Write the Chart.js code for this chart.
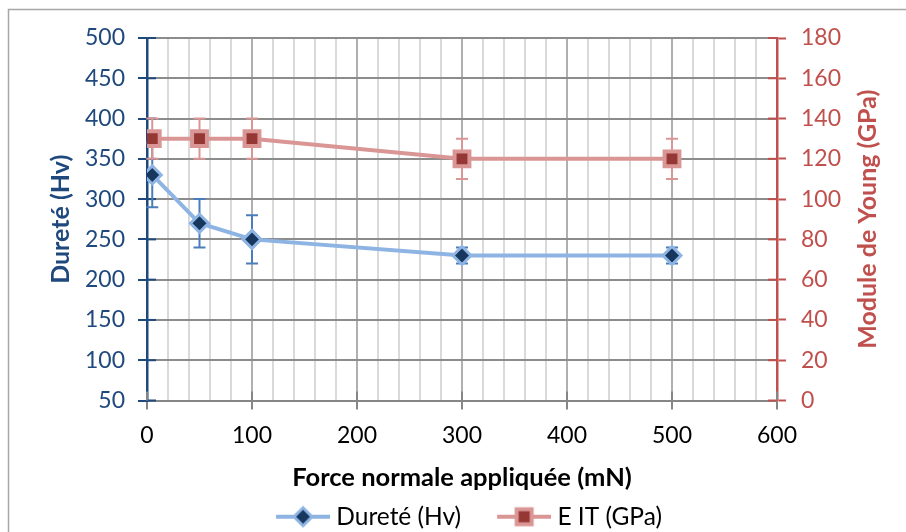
<!DOCTYPE html>
<html>
<head>
<meta charset="utf-8">
<script src="https://cdn.jsdelivr.net/npm/chart.js@4"></script>
<style>
  html, body { margin: 0; padding: 0; background: #fff; }
</style>
</head>
<body>
<canvas id="chart" width="906" height="532"></canvas>
<script>
// data
var force = [5, 50, 100, 300, 500];
var durete = [330, 270, 250, 230, 230];
var dureteErr = [40, 30, 30, 10, 10];
var eit = [130, 130, 130, 120, 120];
var eitErr = [10, 10, 10, 10, 10];
var xLabels = [0, 100, 200, 300, 400, 500, 600];

var FONT = 'Lato';
var BLUE_AXIS = '#1F497D';
var RED_AXIS = '#C0504D';

function pts(xs, ys) {
	return xs.map(function(x, i) { return { x: x, y: ys[i] }; });
}

// legend symbols: line + marker (image is centred on the 80px box, so it overhangs by 6px)
function legendIcon(kind) {
	var c = document.createElement('canvas');
	c.width = 92; c.height = 28;
	var g = c.getContext('2d');
	var cx = 65, cy = 14;
	g.lineWidth = 4;
	g.strokeStyle = kind == 'diamond' ? '#8EB4E3' : '#D99694';
	g.beginPath(); g.moveTo(38, cy); g.lineTo(92, cy); g.stroke();
	g.lineWidth = 3;
	if (kind == 'diamond') {
		g.fillStyle = '#17375E';
		g.beginPath();
		g.moveTo(cx, cy - 9); g.lineTo(cx + 9, cy); g.lineTo(cx, cy + 9); g.lineTo(cx - 9, cy); g.closePath();
		g.fill(); g.strokeStyle = '#8EB4E3'; g.stroke();
	} else {
		g.lineWidth = 4;
		g.fillStyle = '#953735';
		g.fillRect(cx - 7.5, cy - 7.5, 15, 15);
		g.strokeStyle = '#D99694';
		g.strokeRect(cx - 7.5, cy - 7.5, 15, 15);
	}
	return c;
}
var icons = [legendIcon('diamond'), legendIcon('square')];

var errorBars = {
	id: 'errorBars',
	beforeDatasetDraw: function(chart, args) {
		var ds = chart.data.datasets[args.index];
		if (!ds.errors) return;
		var meta = args.meta;
		var ys = chart.scales[meta.yAxisID];
		var ctx = chart.ctx;
		ctx.save();
		ctx.strokeStyle = ds.errorColor;
		ctx.lineWidth = 2;
		meta.data.forEach(function(p, i) {
			var v = ds.data[i].y, e = ds.errors[i];
			var t = ys.getPixelForValue(v + e), b = ys.getPixelForValue(v - e);
			ctx.beginPath();
			ctx.moveTo(p.x, t); ctx.lineTo(p.x, b);
			ctx.moveTo(p.x - 6, t); ctx.lineTo(p.x + 6, t);
			ctx.moveTo(p.x - 6, b); ctx.lineTo(p.x + 6, b);
			ctx.stroke();
		});
		ctx.restore();
	}
};

var extras = {
	id: 'extras',
	beforeDraw: function(chart) {
		var ctx = chart.ctx;
		ctx.save();
		ctx.strokeStyle = '#A6A6A6';
		ctx.lineWidth = 1.5;
		ctx.beginPath();
		ctx.moveTo(8.5, 532); ctx.lineTo(8.5, 9.5); ctx.lineTo(906, 9.5);
		ctx.stroke();
		ctx.restore();
	},
	beforeDatasetsDraw: function(chart) {
		// inner half of the crossing tick marks
		var ctx = chart.ctx, a = chart.chartArea;
		var y = chart.scales.y, y1 = chart.scales.y1, x = chart.scales.x;
		ctx.save();
		ctx.lineWidth = 2;
		ctx.strokeStyle = BLUE_AXIS;
		y.ticks.forEach(function(t) {
			var p = y.getPixelForValue(t.value);
			ctx.beginPath(); ctx.moveTo(a.left, p); ctx.lineTo(a.left + 9, p); ctx.stroke();
		});
		ctx.strokeStyle = RED_AXIS;
		y1.ticks.forEach(function(t) {
			var p = y1.getPixelForValue(t.value);
			ctx.beginPath(); ctx.moveTo(a.right - 9, p); ctx.lineTo(a.right, p); ctx.stroke();
		});
		ctx.strokeStyle = '#868686';
		xLabels.forEach(function(v) {
			var p = x.getPixelForValue(v);
			ctx.beginPath(); ctx.moveTo(p, a.bottom - 9); ctx.lineTo(p, a.bottom); ctx.stroke();
		});
		ctx.restore();
	},
	afterDraw: function(chart) {
		// right axis title reads bottom to top
		var ctx = chart.ctx, a = chart.chartArea, s = chart.scales.y1;
		ctx.save();
		ctx.translate(s.right - 38, (a.top + a.bottom) / 2);
		ctx.rotate(-Math.PI / 2);
		ctx.textAlign = 'center';
		ctx.textBaseline = 'middle';
		ctx.font = 'bold 25px ' + FONT;
		ctx.fillStyle = RED_AXIS;
		ctx.fillText('Module de Young (GPa)', 0, 0);
		ctx.restore();
	}
};

new Chart(document.getElementById('chart').getContext('2d'), {
	type: 'line',
	data: {
		datasets: [{
			label: 'Dureté (Hv)',
			data: pts(force, durete),
			errors: dureteErr,
			errorColor: '#4A7EBB',
			yAxisID: 'y',
			order: 1,
			borderColor: '#8EB4E3',
			borderWidth: 4,
			pointStyle: 'rectRot',
			pointRadius: 9,
			pointBorderWidth: 3,
			pointBackgroundColor: '#17375E',
			pointBorderColor: '#8EB4E3'
		}, {
			label: 'E IT (GPa)',
			data: pts(force, eit),
			errors: eitErr,
			errorColor: '#D99694',
			yAxisID: 'y1',
			order: 0,
			borderColor: '#D99694',
			borderWidth: 4,
			pointStyle: 'rect',
			pointRadius: 10.5,
			pointBorderWidth: 4,
			pointBackgroundColor: '#953735',
			pointBorderColor: '#D99694'
		}]
	},
	options: {
		responsive: false,
		animation: false,
		layout: { padding: { top: 38, left: 0, right: 0, bottom: -7 } },
		plugins: {
			tooltip: { enabled: false },
			legend: {
				position: 'bottom',
				labels: {
					usePointStyle: true,
					pointStyleWidth: 80,
					padding: 4,
					color: '#000',
					font: { family: FONT, size: 24.5 },
					generateLabels: function(chart) {
						return chart.data.datasets.map(function(ds, i) {
							return {
								text: ds.label,
								pointStyle: icons[i],
								datasetIndex: i,
								fillStyle: 'rgba(0,0,0,0)',
								strokeStyle: 'rgba(0,0,0,0)',
								lineWidth: 0,
								hidden: false
							};
						});
					}
				}
			}
		},
		scales: {
			x: {
				type: 'linear',
				min: 0, max: 600,
				ticks: {
					stepSize: 20, autoSkip: false, maxRotation: 0, minRotation: 0,
					padding: 12, color: '#000', font: { family: FONT, size: 23 },
					callback: function(v) { return xLabels.indexOf(v) >= 0 ? v : ''; }
				},
				grid: {
					lineWidth: 2,
					color: function(c) { return c.tick && c.tick.value % 100 === 0 ? '#B0B0B0' : '#D9D9D9'; },
					tickLength: 9,
					tickColor: function(c) { return c.tick && c.tick.value % 100 === 0 ? '#868686' : 'rgba(0,0,0,0)'; }
				},
				border: { color: '#868686', width: 2 },
				title: {
					display: true, text: 'Force normale appliquée (mN)', color: '#000',
					font: { family: FONT, size: 25.5, weight: 'bold' }, padding: { top: 0, bottom: 7 }
				},
				afterFit: function(s) { s.height = 100; }
			},
			y: {
				position: 'left',
				min: 50, max: 500,
				ticks: { stepSize: 50, padding: 13, color: BLUE_AXIS, font: { family: FONT, size: 23 } },
				grid: { color: '#8C8C8C', lineWidth: 2, tickLength: 9, tickColor: BLUE_AXIS, tickWidth: 2 },
				border: { color: BLUE_AXIS, width: 2.5 },
				title: {
					display: true, text: 'Dureté (Hv)', color: BLUE_AXIS,
					font: { family: FONT, size: 25, weight: 'bold' }, padding: { top: 46, bottom: 0 }
				},
				afterFit: function(s) { s.width = 147; }
			},
			y1: {
				position: 'right',
				min: 0, max: 180,
				ticks: { stepSize: 20, padding: 15, color: RED_AXIS, font: { family: FONT, size: 23 } },
				grid: { drawOnChartArea: false, tickLength: 9, tickColor: RED_AXIS, tickWidth: 2 },
				border: { color: RED_AXIS, width: 2.5 },
				afterFit: function(s) { s.width = 129; }
			}
		}
	},
	plugins: [errorBars, extras]
});
</script>
</body>
</html>
